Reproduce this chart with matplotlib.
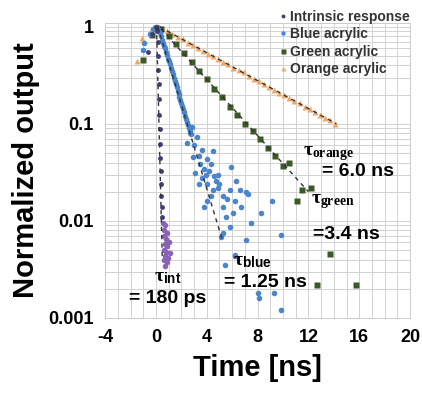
import numpy as np
import matplotlib
matplotlib.use("Agg")
import matplotlib.pyplot as plt
from matplotlib.ticker import FixedLocator, NullFormatter

plt.rcParams['font.family'] = ['Liberation Sans', 'DejaVu Sans']
plt.rcParams['font.weight'] = 'bold'
plt.rcParams['axes.unicode_minus'] = False
plt.rcParams['mathtext.fontset'] = 'custom'
plt.rcParams['mathtext.bf'] = 'Liberation Serif:bold'
plt.rcParams['mathtext.rm'] = 'Liberation Serif:bold'
plt.rcParams['mathtext.it'] = 'Liberation Serif:bold'

# --- data (time in ns, normalized output) ---
int_t = [-0.6, -0.3, 0.0, 0.1, 0.15, 0.18, 0.2, 0.22, 0.25, 0.27, 0.3, 0.32, 0.35, 0.37, 0.4, 0.42, 0.45, 0.47]
int_v = [0.55, 0.85, 1.0, 0.9, 0.7, 0.5, 0.36, 0.26, 0.18, 0.125, 0.088, 0.062, 0.045, 0.033, 0.024, 0.018, 0.014, 0.011]
int_tail_t = [0.55, 0.7, 0.6, 0.9, 0.65, 0.8, 1.0, 0.7, 0.9, 0.6, 0.8, 1.1, 0.75, 0.95, 0.65, 0.85, 0.7]
int_tail_v = [0.0095, 0.009, 0.008, 0.0075, 0.007, 0.0065, 0.006, 0.0058, 0.0055, 0.005, 0.0048, 0.0047,
              0.0044, 0.0042, 0.004, 0.0038, 0.0034]

blue_t = [-1.0, -0.9, -0.5, -0.2, 0.05, 0.2, 0.28, 0.35, 0.42, 0.5, 0.58, 0.65, 0.72, 0.8, 0.88, 0.95,
          1.02, 1.1, 1.18, 1.25, 1.32, 1.4, 1.48, 1.55, 1.62, 1.7, 1.78, 1.85, 1.92, 2.0, 2.08, 2.15,
          2.22, 2.3, 2.38, 2.45, 2.52, 2.6, 2.68, 2.75,
          2.7, 2.85, 2.45, 2.95, 3.25, 3.65, 4.05, 4.3, 3.5, 3.8, 4.7, 4.85,
          4.45, 4.05, 3.8, 5.25, 5.8, 5.9, 6.3, 6.6, 6.2, 6.7, 5.25, 5.5, 5.8, 7.25, 7.5, 5.25, 5.1, 3.4,
          3.1, 4.05, 4.45, 6.05, 7.1, 6.2, 9.1, 8.3, 9.8, 7.1, 5.4, 6.2, 8.1, 8.0, 9.3, 9.8,
          3.0, 3.35, 3.9, 4.2, 4.6, 5.0, 5.6, 4.9, 3.6, 4.35]
blue_v = [0.58, 0.68, 0.85, 0.95, 1.0, 0.97, 0.92, 0.86, 0.8, 0.74, 0.69, 0.64, 0.6, 0.55, 0.51, 0.47,
          0.44, 0.41, 0.38, 0.35, 0.33, 0.3, 0.28, 0.26, 0.24, 0.22, 0.205, 0.19, 0.178, 0.165, 0.153, 0.142,
          0.132, 0.122, 0.113, 0.105, 0.097, 0.09, 0.084, 0.078,
          0.08, 0.094, 0.063, 0.046, 0.074, 0.054, 0.044, 0.039,
          0.039, 0.034, 0.026, 0.022, 0.021, 0.016, 0.014, 0.018, 0.021, 0.036, 0.026, 0.021, 0.016, 0.014,
          0.014, 0.011, 0.0087, 0.019, 0.0095, 0.0075, 0.0069, 0.024, 0.031, 0.024, 0.052, 0.012, 0.0063,
          0.0045, 0.016, 0.012, 0.0072, 0.02, 0.0035, 0.0044, 0.0016, 0.0018, 0.0018, 0.0012,
          0.06, 0.047, 0.03, 0.033, 0.029, 0.024, 0.017, 0.03, 0.028, 0.018]

green_t = [-1.05, -0.3, 0.0, 0.4, 1.0, 1.6, 2.2, 2.8, 3.4, 4.0, 4.6, 5.2, 5.8, 6.4, 7.0, 7.6, 8.2, 8.8,
           9.4, 10.0, 10.5, 11.1, 11.5, 12.2, 13.7, 12.7, 15.7]
green_v = [0.46, 0.83, 0.98, 0.95, 0.8, 0.66, 0.54, 0.43, 0.35, 0.29, 0.23, 0.19, 0.15, 0.125, 0.1, 0.085,
           0.07, 0.056, 0.047, 0.037, 0.04, 0.016, 0.021, 0.022, 0.0046, 0.0022, 0.0022]

orange_t = [-1.5, -1.1, -0.4, 0.0, 0.5, 0.9, 1.3, 1.7, 2.1, 2.5, 2.9, 3.3, 3.7, 4.1, 4.5, 4.9, 5.3, 5.7,
            6.1, 6.5, 6.9, 7.3, 7.7, 8.1, 8.5, 8.9, 9.3, 9.7, 10.1, 10.5, 10.9, 11.3, 11.7, 12.1, 12.5,
            12.9, 13.3, 13.7, 14.1]
orange_v = [0.44, 0.77, 0.93, 1.0, 0.97, 0.9, 0.85, 0.79, 0.75, 0.69, 0.65, 0.61, 0.57, 0.53, 0.5, 0.47,
            0.43, 0.41, 0.38, 0.36, 0.34, 0.31, 0.29, 0.28, 0.26, 0.24, 0.225, 0.21, 0.2, 0.185, 0.172,
            0.163, 0.15, 0.143, 0.132, 0.125, 0.115, 0.109, 0.1]

# exponential fit lines (end points)
int_fit_t, int_fit_v = [0.05, 0.5], [1.0, 0.004]
blue_fit_t, blue_fit_v = [0.15, 5.2], [1.0, 0.0065]
green_fit_t, green_fit_v = [0.4, 12.0], [0.95, 0.02]
orange_fit_t, orange_fit_v = [0.3, 14.2], [1.0, 0.1]

x_ticks = [-4, 0, 4, 8, 12, 16, 20]
y_ticks = [0.001, 0.01, 0.1, 1]
y_tick_labels = ['0.001', '0.01', '0.1', '1']

fig = plt.figure(figsize=(4.22, 4.01), dpi=100)
ax = fig.add_axes([0.249, 0.207, 0.723, 0.736])

c_int = '#3e3f7a'
c_tail = '#8a63b8'
c_blue = '#4b86cc'
c_green = '#3c5a26'
c_orange = '#f0a868'
c_fit = '#333333'

ax.plot(orange_t, orange_v, '^', ms=4.5, color=c_orange, mec='none', label='Orange acrylic', zorder=3)
ax.plot(green_t, green_v, 's', ms=4.5, color=c_green, mec='none', label='Green acrylic', zorder=3)
ax.plot(blue_t, blue_v, 'o', ms=4, color=c_blue, mec='none', label='Blue acrylic', zorder=3)
ax.plot(int_t, int_v, 'o', ms=3.5, color=c_int, mec='none', label='Intrinsic response', zorder=4)
ax.plot(int_tail_t, int_tail_v, 'o', ms=4, color=c_tail, mec='none', zorder=4)

for ft, fv in [(int_fit_t, int_fit_v), (blue_fit_t, blue_fit_v),
               (green_fit_t, green_fit_v), (orange_fit_t, orange_fit_v)]:
    ax.plot(ft, fv, '--', color=c_fit, lw=1.0, dashes=(3, 3), zorder=5)

ax.set_yscale('log')
ax.set_xlim(-4, 20)
ax.set_ylim(0.001, 1.1)
ax.set_xticks(x_ticks)
ax.set_yticks(y_ticks)
ax.set_yticklabels(y_tick_labels)
ax.xaxis.set_minor_locator(FixedLocator(np.arange(-4, 21, 1)))
ax.yaxis.set_minor_locator(FixedLocator([m * 10.0 ** e for e in range(-3, 0) for m in range(2, 10)]))
ax.yaxis.set_minor_formatter(NullFormatter())
ax.grid(True, which='both', color='#d2d2d2', lw=0.7)
ax.set_axisbelow(True)
ax.tick_params(which='both', length=0, labelsize=13, pad=8)
for s in ax.spines.values():
    s.set_color('#cccccc')
    s.set_linewidth(0.7)

ax.set_xlabel('Time [ns]', fontsize=21, fontweight='bold', labelpad=6)
ax.set_ylabel('Normalized output', fontsize=21, fontweight='bold', labelpad=6)

# legend order as in the reference
h, l = ax.get_legend_handles_labels()
order = [3, 2, 1, 0]
leg = ax.legend([h[i] for i in order], [l[i] for i in order], loc='upper right',
                bbox_to_anchor=(1.0, 1.045), frameon=False, fontsize=10, handlelength=0.5,
                handletextpad=0.3, labelspacing=0.25, borderpad=0, borderaxespad=0, markerscale=0.8)
for t in leg.get_texts():
    t.set_color('#333333')

# time-constant annotations
ann = dict(ha='center', va='center', color='black', fontweight='bold')
ax.text(13.6, 0.05, r'$\mathbf{\tau}_{\mathbf{orange}}$', fontsize=14, **ann)
ax.text(15.9, 0.032, '= 6.0 ns', fontsize=14, **ann)
ax.text(13.9, 0.0157, r'$\mathbf{\tau}_{\mathbf{green}}$', fontsize=14, **ann)
ax.text(15.0, 0.0072, '=3.4 ns', fontsize=14, **ann)
ax.text(7.6, 0.0038, r'$\mathbf{\tau}_{\mathregular{blue}}$', fontsize=14, **ann)
ax.text(8.6, 0.0023, '= 1.25 ns', fontsize=14, **ann)
ax.text(0.9, 0.0026, r'$\mathbf{\tau}_{\mathregular{int}}$', fontsize=14, **ann)
ax.text(0.9, 0.0016, '= 180 ps', fontsize=14, **ann)

fig.savefig('out.png', dpi=100)
